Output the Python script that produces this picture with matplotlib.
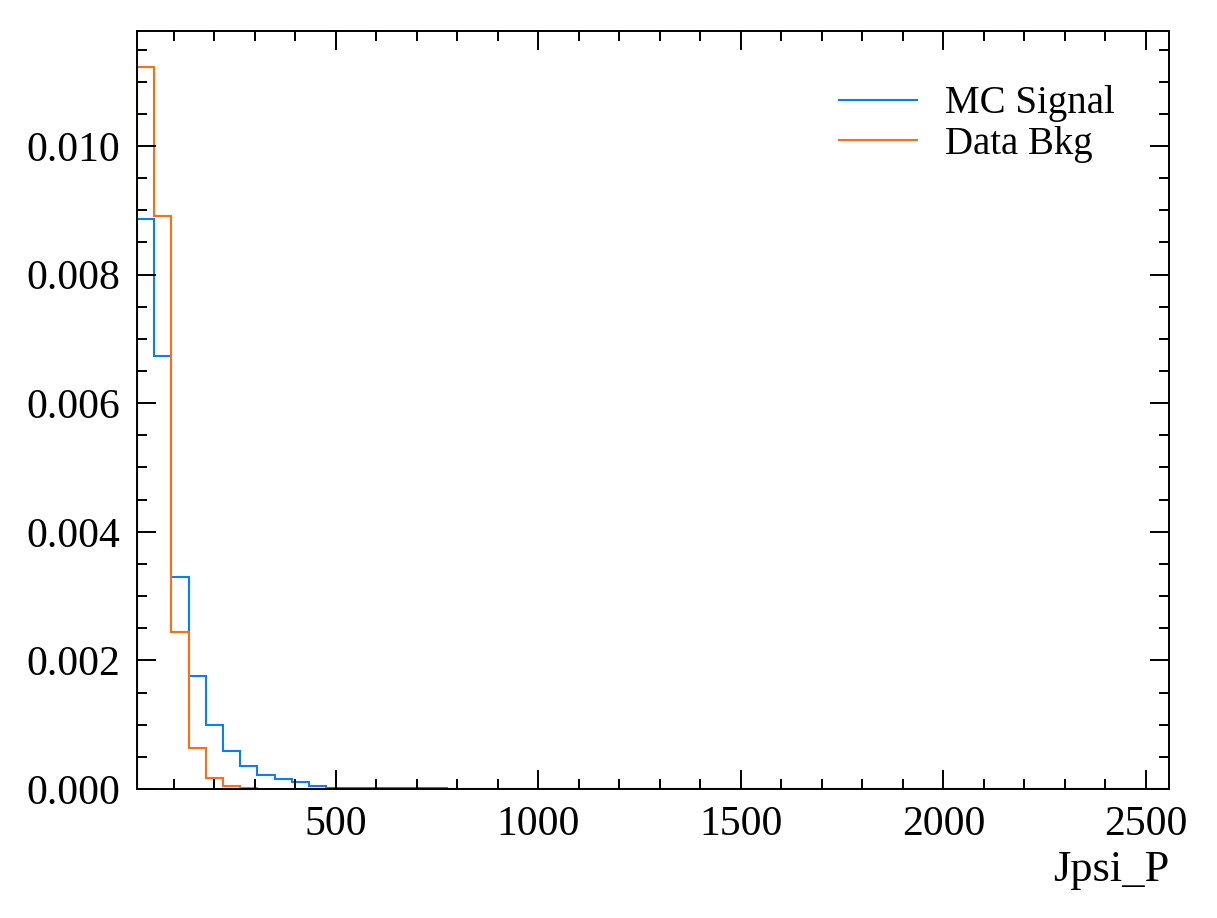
import numpy as np
import matplotlib.pyplot as plt
from matplotlib.ticker import MultipleLocator

# histogram bin edges (60 bins between min and max of Jpsi_P)
x_min, x_max, n_bins = 9.0, 2557.0, 60
edges = np.linspace(x_min, x_max, n_bins + 1)

# normalised bin contents
mc_signal = [0.008862, 0.006728, 0.003297, 0.001752, 0.000994, 0.000590,
             0.000357, 0.000217, 0.000155, 0.000102, 0.000054, 0.000022,
             0.000012, 0.000012, 0.000009, 0.000009, 0.000009, 0.000009]
data_bkg = [0.011227, 0.008913, 0.002442, 0.000632, 0.000166, 0.0000466,
            0.000008]

sig = np.zeros(n_bins)
sig[:len(mc_signal)] = mc_signal
bkg = np.zeros(n_bins)
bkg[:len(data_bkg)] = data_bkg

plt.rcParams['font.family'] = ['Liberation Serif', 'DejaVu Serif']
plt.rcParams['font.size'] = 15
plt.rcParams['mathtext.fontset'] = 'stix'

fig = plt.figure(figsize=(1217/200, 918/200), dpi=200)
ax = fig.add_axes([137/1217, 1-789/918, (1169-137)/1217, (789-31)/918])

blue = '#0a7df8'
orange = '#ff6c12'
ax.stairs(sig, edges, color=blue, lw=0.75, label='MC Signal')
ax.stairs(bkg, edges, color=orange, lw=0.75, label='Data Bkg')

ax.set_xlim(x_min, x_max)
ax.set_ylim(0, max(bkg.max(), sig.max())*1.05)

ax.xaxis.set_major_locator(MultipleLocator(500))
ax.xaxis.set_minor_locator(MultipleLocator(100))
ax.yaxis.set_major_locator(MultipleLocator(0.002))
ax.yaxis.set_minor_locator(MultipleLocator(0.0005))
ax.yaxis.set_major_formatter(plt.FormatStrFormatter('%.3f'))

ax.tick_params(which='both', direction='in', top=True, right=True, width=0.7)
ax.tick_params(which='major', length=7, pad=6)
ax.tick_params(which='minor', length=3.6)
for s in ax.spines.values():
    s.set_linewidth(0.7)

ax.set_xlabel('Jpsi_P', loc='right', fontsize=16, labelpad=2)
ax.legend(loc='upper right', bbox_to_anchor=(0.9625, 0.949), borderaxespad=0,
          frameon=False, fontsize=14, handlelength=2.0,
          handletextpad=0.72, labelspacing=0.1)

fig.savefig('out.png', dpi=200)
